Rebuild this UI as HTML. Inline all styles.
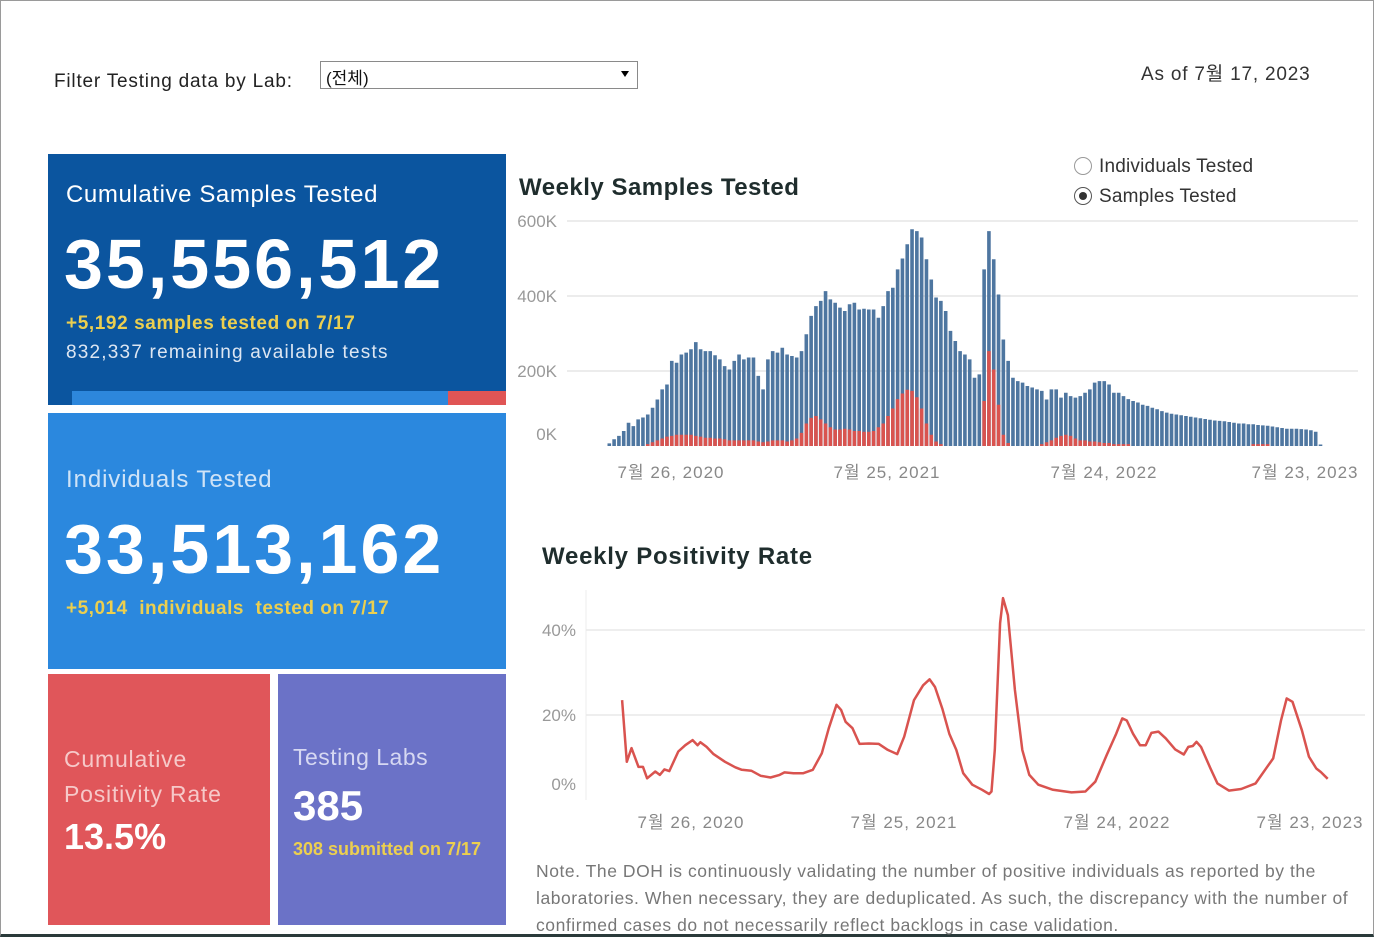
<!DOCTYPE html>
<html><head><meta charset="utf-8">
<style>
body{margin:0;width:1374px;height:939px;overflow:hidden;background:#fff;font-family:"Liberation Sans","Noto Sans CJK KR",sans-serif;position:relative}
.abs{position:absolute}
.box{position:absolute;color:#fff}
.t{position:absolute;white-space:nowrap}
</style></head><body>
<div class="abs" style="left:0;top:0;width:1372px;height:933px;border:1px solid #9a9a9a;border-bottom:3px solid #2a3a3a"></div>

<div class="t" style="left:54px;top:71px;font-size:19px;color:#222;letter-spacing:0.8px">Filter Testing data by Lab:</div>
<div class="abs" style="left:320px;top:61px;width:318px;height:28px;border:1px solid #8a8a8a;box-sizing:border-box;font-size:17px;color:#111">
 <span style="position:absolute;left:5px;top:2px">(전체)</span>
 <span style="position:absolute;right:8px;top:9px;width:0;height:0;border-left:4px solid transparent;border-right:4px solid transparent;border-top:6px solid #000"></span>
</div>
<div class="t" style="left:1141px;top:59px;font-size:19px;color:#333;letter-spacing:0.8px">As of 7월 17, 2023</div>

<div class="box" style="left:48px;top:154px;width:458px;height:251px;background:#0b559f">
 <div class="t" style="left:18px;top:27px;font-size:24px;letter-spacing:0.6px">Cumulative Samples Tested</div>
 <div class="t" style="left:16px;top:70px;font-size:70px;font-weight:bold;letter-spacing:3px">35,556,512</div>
 <div class="t" style="left:18px;top:159px;font-size:19px;font-weight:bold;color:#eccf4f;letter-spacing:0.6px">+5,192 samples tested on 7/17</div>
 <div class="t" style="left:18px;top:188px;font-size:19px;color:#dde6f2;letter-spacing:1.2px">832,337 remaining available tests</div>
 <div class="abs" style="left:24px;top:237px;width:376px;height:14px;background:#2d87dc"></div>
 <div class="abs" style="left:400px;top:237px;width:58px;height:14px;background:#e05555"></div>
</div>

<div class="box" style="left:48px;top:413px;width:458px;height:256px;background:#2b88de">
 <div class="t" style="left:18px;top:53px;font-size:24px;color:#cfe3f7;letter-spacing:0.9px">Individuals Tested</div>
 <div class="t" style="left:16px;top:96px;font-size:70px;font-weight:bold;letter-spacing:3px">33,513,162</div>
 <div class="t" style="left:18px;top:185px;font-size:19px;font-weight:bold;color:#eccf4f;letter-spacing:0.5px">+5,014 &nbsp;individuals &nbsp;tested on 7/17</div>
</div>

<div class="box" style="left:48px;top:674px;width:222px;height:251px;background:#e0565a">
 <div class="t" style="left:16px;top:68px;font-size:23px;line-height:35px;color:#f6c9c9;letter-spacing:0.8px">Cumulative<br>Positivity Rate</div>
 <div class="t" style="left:16px;top:142px;font-size:36px;font-weight:bold">13.5%</div>
</div>

<div class="box" style="left:278px;top:674px;width:228px;height:251px;background:#6b72c7">
 <div class="t" style="left:15px;top:70px;font-size:23px;color:#d6d8f2;letter-spacing:0.5px">Testing Labs</div>
 <div class="t" style="left:15px;top:108px;font-size:42px;font-weight:bold">385</div>
 <div class="t" style="left:15px;top:165px;font-size:18px;font-weight:bold;color:#eccf4f">308 submitted on 7/17</div>
</div>

<div class="t" style="left:519px;top:174px;font-size:24px;font-weight:bold;color:#1f2d2d;letter-spacing:0.5px">Weekly Samples Tested</div>
<div class="t" style="left:1074px;top:156px;font-size:19px;color:#333;letter-spacing:0.2px"><span style="display:inline-block;width:16px;height:16px;border:1px solid #999;border-radius:50%;vertical-align:-3px;margin-right:7px"></span>Individuals Tested</div>
<div class="t" style="left:1074px;top:186px;font-size:19px;color:#333;letter-spacing:0.2px"><span style="display:inline-block;width:16px;height:16px;border:1px solid #555;border-radius:50%;vertical-align:-3px;margin-right:7px;position:relative"><span style="position:absolute;left:4px;top:4px;width:8px;height:8px;border-radius:50%;background:#333"></span></span>Samples Tested</div>

<div class="t" style="left:542px;top:543px;font-size:24px;font-weight:bold;color:#1f2d2d;letter-spacing:0.75px">Weekly Positivity Rate</div>

<svg class="abs" style="left:0;top:0" width="1374" height="939" id="svg"></svg>

<div class="t" style="left:536px;top:858px;font-size:17.5px;line-height:27px;color:#777;white-space:normal;width:830px;letter-spacing:0.55px">Note. The DOH is continuously validating the number of positive individuals as reported by the laboratories. When necessary, they are deduplicated. As such, the discrepancy with the number of confirmed cases do not necessarily reflect backlogs in case validation.</div>

<script>
const sampleTicks=["0K","200K","400K","600K"];
const sampleTickVals=[0,200,400,600];
const dateTicks=["7월 26, 2020","7월 25, 2021","7월 24, 2022","7월 23, 2023"];
const samplesK=[7,18,27,40,62,53,71,76,84,102,124,151,164,227,222,244,249,258,277,258,253,253,242,231,213,204,227,244,231,236,236,187,151,231,253,249,262,244,240,236,253,298,347,373,387,413,391,382,369,360,378,382,364,366,364,364,342,373,413,422,471,500,538,578,573,556,498,444,396,387,360,307,280,253,244,231,182,191,471,573,498,404,284,227,182,173,169,160,156,151,147,124,151,151,129,142,133,129,133,142,151,169,173,173,164,142,142,133,125,120,116,110,107,102,98,93,89,86,84,82,80,78,76,74,72,70,68,67,66,64,62,60,60,58,58,56,55,54,52,50,48,46,46,46,45,44,42,38,4];
const positiveK=[0,0,0,0,0,0,0,0,5,10,15,20,25,27,30,30,30,30,27,25,22,22,20,20,18,15,15,15,15,15,15,12,10,12,15,15,15,12,15,20,35,60,75,80,71,60,50,44,44,46,44,40,40,38,38,40,50,60,80,100,125,140,150,147,130,100,60,30,12,5,0,0,0,0,0,0,0,0,120,253,204,110,30,8,0,0,0,0,0,0,5,10,15,22,27,30,27,20,15,15,12,12,10,8,8,5,5,5,5,0,0,0,0,0,0,0,0,0,0,0,0,0,0,0,0,0,0,0,0,0,0,0,0,0,5,5,5,5,0,0,0,0,0,0,0,0,0,0,0,0,0,0,0];
const posWeeks=[-16.8,-15.65,-14.5,-12.8,-11.7,-10.7,-8.7,-7.6,-6.5,-5.3,-3.1,-1.4,0.4,1.6,2.3,3.8,5.5,8.3,10.8,12.4,14.7,17,19.4,21.6,22.8,25,27.4,29.7,31.9,33.6,35.5,36.6,37.7,39.4,41.1,43.4,45.8,48,50.3,52,54.4,56.6,58.2,59.5,61.3,63,64.7,66.4,68.6,71,72.7,73.3,74.1,75.4,76.1,77.3,79,80.8,82.5,84.7,88.3,92.8,96.2,98.6,101.4,103.7,105.2,106.3,107.8,109.5,110.9,112.3,114,115.8,118.1,120.2,121.3,122.4,123.3,124.4,126.7,128.4,131.2,134.2,137.7,140.4,142,143.9,145.3,146.7,149,150.7,152.5,153.6,155.3];
const posRate=[23.5,9,12.2,7.8,7.8,5.1,6.7,5.9,7.2,6.8,11.4,12.9,14.1,12.9,13.6,12.5,10.8,9,7.7,7.1,6.9,5.7,5.3,5.9,6.5,6.3,6.3,7.1,11,16.9,22.4,21.2,18.4,16.9,13.2,13.3,13.2,11.8,10.8,14.9,23.5,27,28.4,26.6,21.5,15.6,11.8,6.3,3.6,2.4,1.4,2,11.8,41.6,47.5,43.5,25.9,11.8,5.9,3.6,2.4,1.8,2,4.3,10.6,15.6,19.2,18.7,15.6,12.9,12.9,15.8,16.1,14.5,11.9,10.7,12.5,12.7,13.7,12.5,7.4,3.9,2.2,2.6,3.9,7.6,9.8,18.7,23.9,23.1,16.4,10.2,7.4,6.6,5];
const rateTicks=["0%","20%","40%"];
const rateTickVals=[0,20,40];

const svg=document.getElementById('svg');
const NS='http://www.w3.org/2000/svg';
function mk(tag,attrs){const e=document.createElementNS(NS,tag);for(const k in attrs)e.setAttribute(k,attrs[k]);svg.appendChild(e);return e;}

const yS=v=>446-v*(75/200);
const xLeft=607,xRight=1323,n=samplesK.length,bw=(xRight-xLeft)/n;
const xB=i=>xLeft+i*bw;
sampleTickVals.forEach((v,i)=>{
 if(v>0){const g=mk('line',{x1:567,x2:1358,y1:yS(v),y2:yS(v),stroke:'#e6e6e6','stroke-width':1.5});
 
 }
 const t=mk('text',{x:557,y:(v==0?440:yS(v)+6),'text-anchor':'end','font-size':17,fill:'#999','font-family':'Liberation Sans, sans-serif'});
 t.textContent=sampleTicks[i];
 
 
});
samplesK.forEach((v,i)=>{
 const r=mk('rect',{x:xB(i)+0.5,y:yS(v),width:Math.max(bw-1.2,1),height:446-yS(v),fill:'#4e76a0'});
 
 
 const p=positiveK[i]||0;
 if(p>0){const r2=mk('rect',{x:xB(i)+0.5,y:yS(p),width:Math.max(bw-1.2,1),height:446-yS(p),fill:'#d9534f'});
 
 }
});
const sTickX=[671,887,1104,1305];
dateTicks.forEach((d,i)=>{
 const t=mk('text',{x:sTickX[i],y:478,'text-anchor':'middle','font-size':17,fill:'#888','letter-spacing':'1','font-family':'Liberation Sans, Noto Sans CJK KR, sans-serif'});
 t.textContent=d;
 
 
});

const yR=v=>800-v*4.25;
const xW=w=>691+w*4.1;
mk('line',{x1:586,x2:586,y1:590,y2:800,stroke:'#eee'});
rateTickVals.forEach((v,i)=>{
 if(v>0){const g=mk('line',{x1:586,x2:1365,y1:yR(v),y2:yR(v),stroke:'#e8e8e8','stroke-width':1.5});
 
 }
 const t=mk('text',{x:576,y:(v==0?790:yR(v)+6),'text-anchor':'end','font-size':17,fill:'#999','font-family':'Liberation Sans, sans-serif'});
 t.textContent=rateTicks[i];
 
 
});
const pts=posWeeks.map((w,i)=>xW(w).toFixed(1)+','+yR(posRate[i]).toFixed(1)).join(' ');
const pl=mk('polyline',{points:pts,fill:'none',stroke:'#d9534f','stroke-width':2.5,'stroke-linejoin':'round'});


const rTickX=[691,904,1117,1310];
dateTicks.forEach((d,i)=>{
 const t=mk('text',{x:rTickX[i],y:828,'text-anchor':'middle','font-size':17,fill:'#888','letter-spacing':'1','font-family':'Liberation Sans, Noto Sans CJK KR, sans-serif'});
 t.textContent=d;
 
 
});
</script>
</body></html>
